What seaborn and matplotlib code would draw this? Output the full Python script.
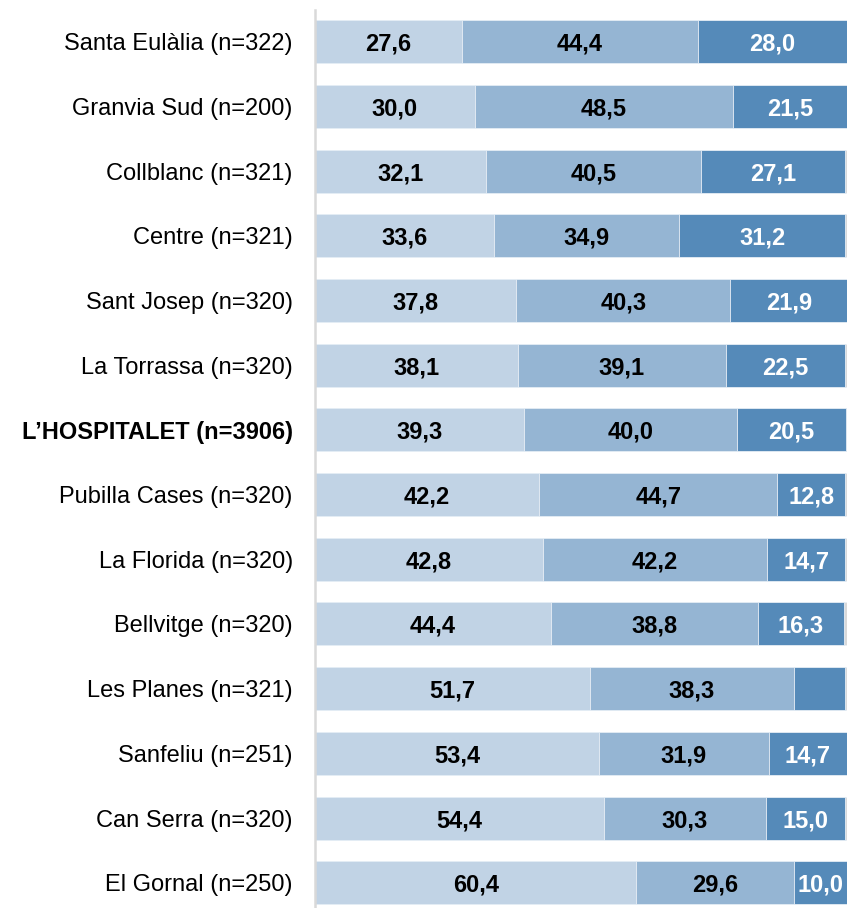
import numpy as np
import pandas as pd
import matplotlib
matplotlib.use("Agg")
import matplotlib.pyplot as plt
import seaborn as sns

# data (percentages)
districts = ["Santa Eulàlia (n=322)", "Granvia Sud (n=200)", "Collblanc (n=321)",
             "Centre (n=321)", "Sant Josep (n=320)", "La Torrassa (n=320)",
             "L\u2019HOSPITALET (n=3906)", "Pubilla Cases (n=320)", "La Florida (n=320)",
             "Bellvitge (n=320)", "Les Planes (n=321)", "Sanfeliu (n=251)",
             "Can Serra (n=320)", "El Gornal (n=250)"]
light = [27.6, 30.0, 32.1, 33.6, 37.8, 38.1, 39.3, 42.2, 42.8, 44.4, 51.7, 53.4, 54.4, 60.4]
mid = [44.4, 48.5, 40.5, 34.9, 40.3, 39.1, 40.0, 44.7, 42.2, 38.8, 38.3, 31.9, 30.3, 29.6]
dark = [28.0, 21.5, 27.1, 31.2, 21.9, 22.5, 20.5, 12.8, 14.7, 16.3, 9.6, 14.7, 15.0, 10.0]
dark_unlabeled = ["Les Planes (n=321)"]
bold_row = "L\u2019HOSPITALET (n=3906)"

colors = ["#c1d3e5", "#95b5d3", "#558ab9", "#d9d9d9"]
FS = 17

df = pd.DataFrame({"district": districts, "light": light, "mid": mid, "dark": dark})
df["rest"] = (100 - df[["light", "mid", "dark"]].sum(axis=1)).clip(lower=0).round(1)
df["c1"] = df["light"]
df["c2"] = df["c1"] + df["mid"]
df["c3"] = df["c2"] + df["dark"]
df["c4"] = df["c3"] + df["rest"]

sns.set_theme(style="white")
plt.rcParams["font.family"] = ["Liberation Sans", "DejaVu Sans"]

fig = plt.figure(figsize=(8.49, 9.08), dpi=100)
ax = fig.add_axes([0.371, 0.0, 0.6266, 0.989])

for col, color in zip(["c4", "c3", "c2", "c1"], colors[::-1]):
    sns.barplot(data=df, x=col, y="district", color=color, orient="h",
                width=0.665, edgecolor="#e8eff6", linewidth=0.6, ax=ax,
                saturation=1)


def fmt(v):
    return f"{v:.1f}".replace(".", ",")


# value labels
for i, row in df.iterrows():
    ax.text(row["light"] / 2, i, fmt(row["light"]), ha="center", va="center_baseline",
            fontsize=FS, fontweight="bold", color="black")
    ax.text(row["c1"] + row["mid"] / 2, i, fmt(row["mid"]), ha="center", va="center_baseline",
            fontsize=FS, fontweight="bold", color="black")
    if row["district"] not in dark_unlabeled:
        ax.text(row["c2"] + row["dark"] / 2, i, fmt(row["dark"]), ha="center",
                va="center_baseline", fontsize=FS, fontweight="bold", color="white")

ax.set_xlim(0, 100)
ax.set_ylim(13.39, -0.49)
ax.set_xlabel("")
ax.set_ylabel("")
ax.set_xticks([])
ax.tick_params(axis="y", length=0, pad=16, labelsize=FS)
for lbl in ax.get_yticklabels():
    lbl.set_color("black")
    lbl.set_verticalalignment("center_baseline")
    if lbl.get_text() == bold_row:
        lbl.set_fontweight("bold")

for side in ["top", "right", "bottom"]:
    ax.spines[side].set_visible(False)
ax.spines["left"].set_color("#d9d9d9")
ax.spines["left"].set_linewidth(1.8)

fig.savefig("out.png", dpi=100)
